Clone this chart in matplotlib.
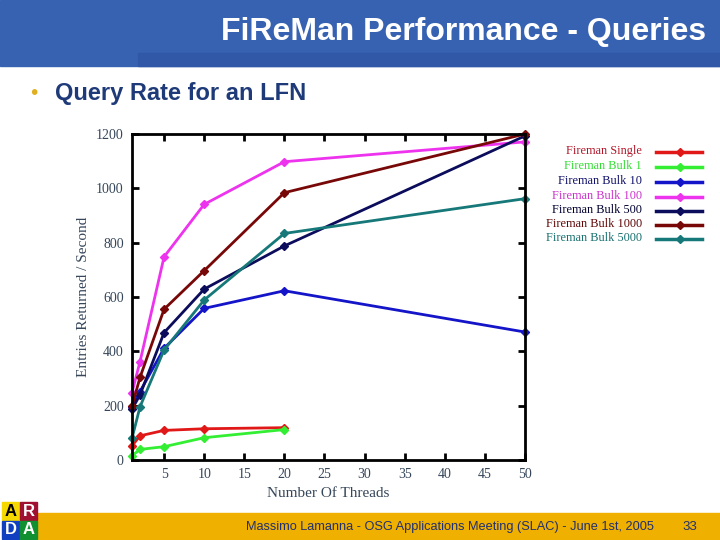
import matplotlib
matplotlib.use("Agg")
import matplotlib.pyplot as plt
from matplotlib.patches import Rectangle
from matplotlib.lines import Line2D

# ---- data ----
threads = [1, 2, 5, 10, 20, 50]

series_names = ["Fireman Single", "Fireman Bulk 1", "Fireman Bulk 10", "Fireman Bulk 100",
                "Fireman Bulk 500", "Fireman Bulk 1000", "Fireman Bulk 5000"]
single = [52, 89, 109, 115, 119]
bulk1 = [16, 39, 49, 82, 112]
bulk10 = [196, 252, 411, 558, 623, 471]
bulk100 = [248, 362, 748, 941, 1098, 1171]
bulk500 = [187, 240, 469, 629, 788, 1193]
bulk1000 = [199, 304, 555, 697, 984, 1200]
bulk5000 = [80, 196, 405, 589, 834, 962]

x_ticks = [5, 10, 15, 20, 25, 30, 35, 40, 45, 50]
y_ticks = [0, 200, 400, 600, 800, 1000, 1200]

colors = ["#e01818", "#33ee33", "#1414c8", "#ee33ee", "#0c0c5c", "#780808", "#167878"]
text_colors = ["#b0182a", "#33dd33", "#10106a", "#cc33cc", "#000030", "#600808", "#187070"]

fig = plt.figure(figsize=(7.2, 5.4), dpi=100)
W, H = 720.0, 540.0

def fx(px):
    return px / W

def fy(py):
    return 1 - py / H

# header band
fig.patches.append(Rectangle((0, fy(66)), 1, 66 / H, transform=fig.transFigure,
                             color="#3762b2", zorder=0))
fig.patches.append(Rectangle((fx(138), fy(66)), 1 - fx(138), 13 / H, transform=fig.transFigure,
                             color="#3058a6", zorder=0))
fig.text(fx(706), fy(32), "FiReMan Performance - Queries", ha="right", va="center",
         color="white", fontsize=23, fontweight="bold", family="Liberation Sans")
fig.text(fx(30), fy(93), "•", ha="left", va="center", color="#e0b020", fontsize=15,
         family="Liberation Sans")
fig.text(fx(55), fy(93), "Query Rate for an LFN", ha="left", va="center", color="#1f3a78",
         fontsize=17, fontweight="bold", family="Liberation Sans")

# footer band
fig.patches.append(Rectangle((fx(38), 0), 1 - fx(38), 27 / H, transform=fig.transFigure,
                             color="#f0b000", zorder=0))
fig.text(fx(450), fy(527), "Massimo Lamanna - OSG Applications Meeting (SLAC) - June 1st, 2005",
         ha="center", va="center", color="#1f2f70", fontsize=9.2, family="Liberation Sans")
fig.text(fx(690), fy(527), "33", ha="center", va="center", color="#1f2f70", fontsize=9.5,
         family="Liberation Sans")

# ARDA logo
logo = [("A", 2, 502, "#f5d800", "#000000"), ("R", 20, 502, "#a01030", "#ffffff"),
        ("D", 2, 521, "#1040c0", "#ffffff"), ("A", 20, 521, "#109030", "#ffffff")]
for ch, lx, ly, bg, fg in logo:
    fig.patches.append(Rectangle((fx(lx), fy(ly + 18)), 17 / W, 18 / H,
                                 transform=fig.transFigure, color=bg, zorder=1))
    fig.text(fx(lx + 8.5), fy(ly + 9), ch, ha="center", va="center", color=fg,
             fontsize=12, fontweight="bold", family="Liberation Sans")

# axes
ax = fig.add_axes([fx(132), fy(460), (525 - 132) / W, (460 - 134) / H])
all_series = [single, bulk1, bulk10, bulk100, bulk500, bulk1000, bulk5000]
for name, vals, c in zip(series_names, all_series, colors):
    xs = threads[:len(vals)]
    ax.plot(xs, vals, color=c, lw=2.0, marker="D", ms=4, mec=c, mfc=c, clip_on=False)

ax.set_xlim(1, 50)
ax.set_ylim(0, 1200)
ax.set_xticks(x_ticks)
ax.set_yticks(y_ticks)
ax.tick_params(direction="in", top=True, right=True, length=5, width=2,
               labelsize=10, labelcolor="#36465a", pad=6)
for lab in ax.get_xticklabels() + ax.get_yticklabels():
    lab.set_family("Liberation Serif")
for s in ax.spines.values():
    s.set_linewidth(2)
ax.set_xlabel("Number Of Threads", family="Liberation Serif", fontsize=11, color="#36465a",
              labelpad=4)
ax.set_ylabel("Entries Returned / Second", family="Liberation Serif", fontsize=11,
              color="#36465a", labelpad=4)

# legend (manual)
rows = [151, 166, 181, 196, 210, 224, 238]
for name, c, tc, ry in zip(series_names, colors, text_colors, rows):
    fig.text(fx(642), fy(ry), name, ha="right", va="center", color=tc, fontsize=8.8,
             family="Liberation Serif")
    fig.add_artist(Line2D([fx(656), fx(702)], [fy(ry + 1), fy(ry + 1)], color=c, lw=2.5,
                          transform=fig.transFigure))
    fig.add_artist(Line2D([fx(680)], [fy(ry + 1)], color=c, marker="D", ms=4,
                          transform=fig.transFigure))

fig.savefig("out.png", dpi=100)
